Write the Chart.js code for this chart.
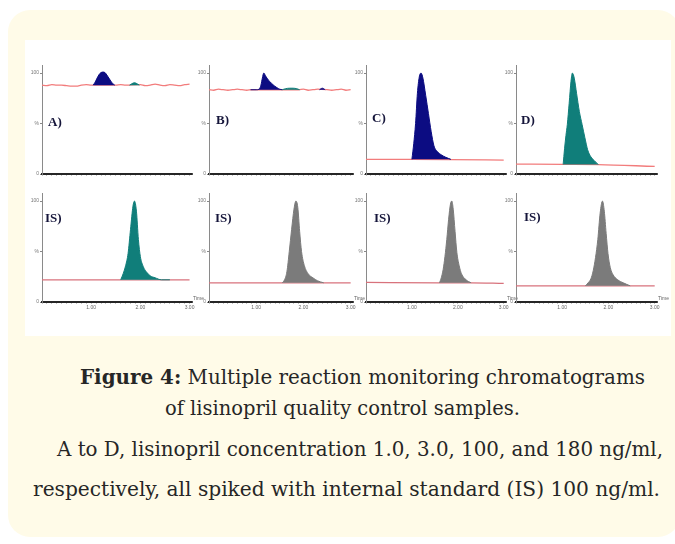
<!DOCTYPE html>
<html>
<head>
<meta charset="utf-8">
<script src="https://cdn.jsdelivr.net/npm/chart.js@4.4.1/dist/chart.umd.min.js"></script>
<style>
html, body { margin: 0; padding: 0; background: #fff; }
body { width: 675px; height: 544px; position: relative; overflow: hidden; }
#card { position: absolute; left: 8px; top: 10px; width: 672px; height: 527px; background: #fffbe8; border-radius: 22px; }
#fig { position: absolute; left: 25px; top: 40px; width: 646px; height: 296px; background: #fff; }
canvas { position: absolute; }
.lbl { position: absolute; font: bold 13px/13px 'Liberation Serif', serif; color: #15153a; white-space: nowrap; }
.tm { position: absolute; font: 5px/5px 'Liberation Sans', sans-serif; color: #666; }
.cap { position: absolute; font-family: 'DejaVu Serif', serif; font-stretch: condensed; font-size: 20px; line-height: 20px; color: #262626; white-space: nowrap; transform-origin: 0 0; }
</style>
</head>
<body>
<div id="card"></div>
<div id="fig"></div>

<div class="cap" data-w="565" style="left:80px;top:367px"><b>Figure 4:</b> Multiple reaction monitoring chromatograms</div>
<div class="cap" data-w="355" style="left:165px;top:398px">of lisinopril quality control samples.</div>
<div class="cap" data-w="606" style="left:57px;top:439px">A to D, lisinopril concentration 1.0, 3.0, 100, and 180 ng/ml,</div>
<div class="cap" data-w="627" style="left:33px;top:479px">respectively, all spiked with internal standard (IS) 100 ng/ml.</div>

<script>
// axis ticks
const X_TICKS = [0, 0.1, 0.2, 0.3, 0.4, 0.5, 0.6, 0.7, 0.8, 0.9, 1.0, 1.1, 1.2, 1.3, 1.4, 1.5,
                 1.6, 1.7, 1.8, 1.9, 2.0, 2.1, 2.2, 2.3, 2.4, 2.5, 2.6, 2.7, 2.8, 2.9, 3.0];
const X_LABEL_AT = [1, 2, 3];
const X_TICK_LABELS = ["1.00", "2.00", "3.00"];
const Y_TICKS = [0, 50, 100];
const Y_TICK_LABELS = ["0", "%", "100"];
const PANEL_LABELS = ["A)", "B)", "C)", "D)", "IS)", "IS)", "IS)", "IS)"];

// A) 1.0 ng/ml
const aBaseT = [0, 0.1, 0.2, 0.3, 0.4, 0.5, 0.6, 0.7, 0.8, 0.9, 1.0, 1.5, 1.6, 1.7, 2.0, 2.1, 2.2, 2.3, 2.4, 2.5, 2.6, 2.7, 2.8, 2.9, 3.0];
const aBaseY = [88, 87.5, 88.5, 88, 88, 87.5, 87, 87, 88, 88.5, 88, 88, 88.5, 88, 88.5, 87.5, 88, 89, 88, 87.5, 88.5, 88, 87.5, 88.5, 89];
const aPeakT = [1.04, 1.08, 1.12, 1.16, 1.2, 1.24, 1.28, 1.32, 1.36, 1.4, 1.44, 1.48];
const aPeakY = [88, 91, 95, 98.5, 100.5, 101, 100.5, 98, 95, 92, 89.5, 88];
const aBumpT = [1.78, 1.83, 1.88, 1.93, 1.98];
const aBumpY = [88, 89.5, 90.5, 89.5, 88];

// B) 3.0 ng/ml
const bBaseT = [0, 0.1, 0.2, 0.3, 0.4, 0.5, 0.6, 0.7, 0.8, 0.9, 1.6, 1.9, 2.0, 2.1, 2.2, 2.3, 2.5, 2.6, 2.7, 2.8, 2.9, 3.0];
const bBaseY = [83.5, 83, 84, 83.5, 83, 83.5, 84, 83.5, 83, 83.5, 83.5, 83.5, 84, 83, 83.5, 84, 83.5, 83, 83.5, 84, 83, 83.5];
const bPeakT = [0.88, 1.0, 1.06, 1.1, 1.13, 1.16, 1.2, 1.26, 1.32, 1.38, 1.44, 1.5, 1.55];
const bPeakY = [83.5, 83.5, 84, 88, 95, 100, 97, 93, 90, 87.5, 85.5, 84, 83.5];
const bTealT = [1.55, 1.62, 1.7, 1.78, 1.86, 1.92];
const bTealY = [83.5, 84.5, 85, 85, 84.5, 83.5];
const bSmallT = [2.34, 2.4, 2.46];
const bSmallY = [83.5, 85, 83.5];

// C) 100 ng/ml
const cBaseT = [0, 1.0, 1.85, 3.0];
const cBaseY = [14.5, 14.5, 14.3, 13.8];
const cPeakT = [1.0, 1.04, 1.08, 1.12, 1.16, 1.2, 1.24, 1.3, 1.36, 1.42, 1.48, 1.56, 1.64, 1.74, 1.85];
const cPeakY = [14.5, 30, 50, 80, 96, 100, 95, 78, 60, 42, 28, 22, 19, 16.5, 14.5];

// D) 180 ng/ml
const dBaseT = [0, 1.02, 1.78, 3.0];
const dBaseY = [9.8, 9.5, 9.3, 7.5];
const dPeakT = [1.02, 1.05, 1.08, 1.11, 1.15, 1.19, 1.22, 1.26, 1.31, 1.37, 1.43, 1.49, 1.55, 1.62, 1.7, 1.78];
const dPeakY = [9.5, 25, 38, 49, 70, 92, 100, 95, 80, 62, 49, 36, 24, 17, 13, 9.3];

// internal standard, 100 ng/ml
const isaBaseT = [0, 1.6, 2.43, 3.0];
const isaBaseY = [22, 22, 22, 22];
const isaPeakT = [1.6, 1.65, 1.7, 1.75, 1.8, 1.85, 1.88, 1.92, 1.96, 2.0, 2.06, 2.12, 2.2, 2.3, 2.43, 2.6];
const isaPeakY = [22, 28, 36, 48, 72, 95, 100, 90, 62, 45, 35, 30, 26, 24, 22, 22];

const isbBaseT = [0, 1.55, 2.43, 3.0];
const isbBaseY = [19, 19, 19, 19];
const isbPeakT = [1.55, 1.6, 1.65, 1.7, 1.75, 1.8, 1.84, 1.88, 1.92, 1.96, 2.02, 2.1, 2.2, 2.3, 2.43];
const isbPeakY = [19, 22, 30, 50, 72, 92, 100, 94, 70, 50, 36, 28, 24, 21, 19];

const iscBaseT = [0, 1.6, 2.29, 3.0];
const iscBaseY = [19.5, 19, 19, 18.5];
const iscPeakT = [1.6, 1.64, 1.68, 1.72, 1.76, 1.8, 1.84, 1.87, 1.9, 1.94, 1.98, 2.03, 2.08, 2.18, 2.29];
const iscPeakY = [19, 24, 32, 45, 62, 82, 97, 100, 92, 70, 49, 36, 28, 22, 19];

const isdBaseT = [0, 1.5, 2.47, 3.0];
const isdBaseY = [16, 16, 16, 16];
const isdPeakT = [1.5, 1.56, 1.62, 1.67, 1.72, 1.77, 1.82, 1.87, 1.91, 1.95, 1.99, 2.04, 2.1, 2.2, 2.32, 2.47];
const isdPeakY = [16, 19, 23, 31, 44, 62, 88, 100, 90, 68, 48, 34, 27, 22, 19, 16];

// layout and colours
const NAVY = "#0c0c82", TEAL = "#107e7a", GRAY = "#7b7b7b";
const RED1 = "#f27c7c", RED2 = "#d8727c";
const COLS = [{ x: 42, w: 150 }, { x: 209, w: 144 }, { x: 366, w: 140 }, { x: 516, w: 141 }];
const ROWS = [{ top: 71, zero: 174, labels: false, red: RED1 }, { top: 199, zero: 302, labels: true, red: RED2 }];
const LABEL_POS = [[48, 115], [216, 113], [372, 111], [521, 113], [45, 211], [215, 211], [374, 211], [524, 210]];
const Y_MAX = 108, X_MAX = 3.05;

const panels = [
    { row: 0, col: 0, base: [aBaseT, aBaseY], peaks: [[aPeakT, aPeakY, NAVY], [aBumpT, aBumpY, TEAL]] },
    { row: 0, col: 1, base: [bBaseT, bBaseY], peaks: [[bPeakT, bPeakY, NAVY], [bTealT, bTealY, TEAL], [bSmallT, bSmallY, NAVY]] },
    { row: 0, col: 2, base: [cBaseT, cBaseY], peaks: [[cPeakT, cPeakY, NAVY]] },
    { row: 0, col: 3, base: [dBaseT, dBaseY], peaks: [[dPeakT, dPeakY, TEAL]] },
    { row: 1, col: 0, base: [isaBaseT, isaBaseY], peaks: [[isaPeakT, isaPeakY, TEAL]] },
    { row: 1, col: 1, base: [isbBaseT, isbBaseY], peaks: [[isbPeakT, isbPeakY, GRAY]] },
    { row: 1, col: 2, base: [iscBaseT, iscBaseY], peaks: [[iscPeakT, iscPeakY, GRAY]] },
    { row: 1, col: 3, base: [isdBaseT, isdBaseY], peaks: [[isdPeakT, isdPeakY, GRAY]] },
];

function zip(t, y) {
    return t.map((x, i) => ({ x: x, y: y[i] }));
}

function xLabel(v) {
    const i = X_LABEL_AT.findIndex(a => Math.abs(a - v) < 1e-6);
    return i < 0 ? "" : X_TICK_LABELS[i];
}

panels.forEach(function (p, n) {
    const col = COLS[p.col], row = ROWS[p.row];
    const YW = 16, XH = row.labels ? 11 : 6, PT = 2, PR = 8;
    const unit = (row.zero - row.top) / 100;
    const H = Math.round(PT + unit * Y_MAX + XH);
    const cv = document.createElement("canvas");
    cv.width = YW + col.w + PR;
    cv.height = H;
    cv.style.left = (col.x - YW) + "px";
    cv.style.top = (row.zero - (H - XH)) + "px";
    document.body.appendChild(cv);

    const datasets = [{
        data: zip(p.base[0], p.base[1]),
        borderColor: row.red, borderWidth: 1.3, fill: false, order: 2,
    }];
    p.peaks.forEach(function (pk) {
        datasets.push({
            data: zip(pk[0], pk[1]),
            borderColor: pk[2], backgroundColor: pk[2], borderWidth: 1,
            fill: { value: pk[1][0] }, order: 1,
        });
    });

    new Chart(cv.getContext("2d"), {
        type: "line",
        data: { datasets: datasets },
        options: {
            responsive: false,
            animation: false,
            devicePixelRatio: 1,
            layout: { padding: { top: PT, right: PR, left: 0, bottom: 0 } },
            plugins: { legend: { display: false }, tooltip: { enabled: false } },
            elements: { point: { radius: 0 }, line: { cubicInterpolationMode: "monotone" } },
            scales: {
                x: {
                    type: "linear", min: 0, max: X_MAX,
                    afterBuildTicks: s => { s.ticks = X_TICKS.map(v => ({ value: v })); },
                    afterFit: s => { s.height = XH; },
                    ticks: { display: row.labels, autoSkip: false, maxRotation: 0, padding: 1,
                             font: { size: 5 }, color: "#666", callback: v => xLabel(v) },
                    grid: { drawOnChartArea: false, drawTicks: true, tickLength: 2, color: "#9a9a9a", lineWidth: 0.6 },
                    border: { display: true, color: "#262626", width: 2 },
                },
                y: {
                    min: 0, max: Y_MAX,
                    afterBuildTicks: s => { s.ticks = Y_TICKS.map(v => ({ value: v })); },
                    afterFit: s => { s.width = YW; },
                    ticks: { font: { size: 5 }, color: "#777", padding: 1,
                             callback: (v, i) => Y_TICK_LABELS[i] },
                    grid: { drawOnChartArea: false, tickLength: 2, color: "#888" },
                    border: { display: true, color: "#8a8a8a", width: 1 },
                },
            },
        },
    });

    const lb = document.createElement("div");
    lb.className = "lbl";
    lb.textContent = PANEL_LABELS[n];
    lb.style.left = LABEL_POS[n][0] + "px";
    lb.style.top = LABEL_POS[n][1] + "px";
    document.body.appendChild(lb);

    if (row.labels) {
        const tm = document.createElement("div");
        tm.className = "tm";
        tm.textContent = "Time";
        tm.style.left = (col.x + col.w + 1) + "px";
        tm.style.top = (row.zero - 6) + "px";
        document.body.appendChild(tm);
    }
});

// stretch caption lines to the measured line widths
function fitCaption() {
    document.querySelectorAll(".cap").forEach(function (el) {
        el.style.transform = "none";
        const w = el.getBoundingClientRect().width;
        el.style.transform = "scaleX(" + (+el.dataset.w / w) + ")";
    });
}
fitCaption();
document.fonts.ready.then(fitCaption);
</script>
</body>
</html>
